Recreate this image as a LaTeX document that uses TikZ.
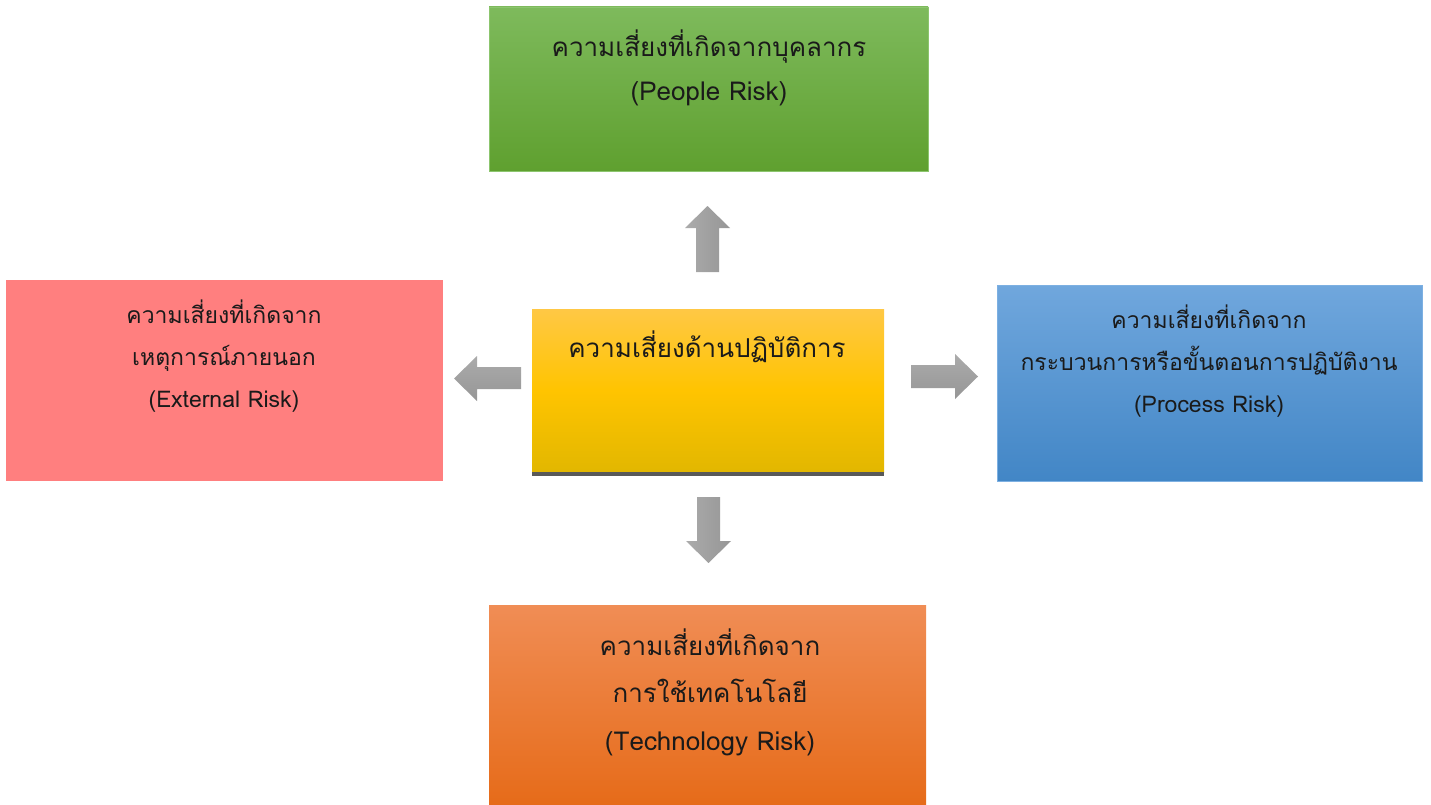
\documentclass[tikz,border=0pt]{standalone}
\usepackage{fontspec}
\newfontfamily\thai[Script=Thai]{Loma}
\usetikzlibrary{calc}
\definecolor{txt}{HTML}{1A1A1A}
\definecolor{gTop}{HTML}{7EBA5C}
\definecolor{gBot}{HTML}{5FA02F}
\definecolor{gLine}{HTML}{8CC56E}
\definecolor{redF}{HTML}{FF7F7F}
\definecolor{yTop}{HTML}{FFC845}
\definecolor{yMid}{HTML}{FFC400}
\definecolor{yBot}{HTML}{E2B700}
\definecolor{barC}{HTML}{595959}
\definecolor{bTop}{HTML}{70A7DD}
\definecolor{bBot}{HTML}{4286C6}
\definecolor{bLine}{HTML}{7DB0E2}
\definecolor{oTop}{HTML}{F08D55}
\definecolor{oBot}{HTML}{E66B19}
\definecolor{aLight}{HTML}{ABABAB}
\definecolor{aDark}{HTML}{969696}
\tikzset{
  box/.style={rectangle, inner sep=0pt, outer sep=0pt, anchor=north west},
  lbl/.style={inner sep=0pt, align=center, text=txt, anchor=base},
  varrow/.style={left color=aLight, right color=aDark},
  harrow/.style={top color=aLight, bottom color=aDark},
}
\begin{document}
\begin{tikzpicture}[x=1pt,y=-1pt]
\useasboundingbox (0,0) rectangle (1431,805);
% boxes
\node[box, minimum width=439pt, minimum height=164pt, top color=gTop, bottom color=gBot, draw=gLine, line width=0.6pt] (people) at (489,7) {};
\node[box, minimum width=437pt, minimum height=201pt, fill=redF] (external) at (6,280) {};
\node[box, minimum width=352pt, minimum height=163pt, top color=yTop, bottom color=yBot, middle color=yMid] (core) at (532,309) {};
\fill[barC] (core.south west) rectangle ($(core.south east)+(0,4)$);
\node[box, minimum width=425pt, minimum height=196pt, top color=bTop, bottom color=bBot, draw=bLine, line width=0.6pt] (process) at (997,285) {};
\node[box, minimum width=437pt, minimum height=201pt, top color=oTop, bottom color=oBot] (tech) at (489,605) {};
% texts (anchored at the baseline of the last line)
\node[lbl, font=\thai\fontsize{26}{44}\selectfont] (peopleT) at (709,101) {ความเสี่ยงที่เกิดจากบุคลากร\\(People Risk)};
\node[lbl, font=\thai\fontsize{23}{42}\selectfont] (externalT) at (224,407) {ความเสี่ยงที่เกิดจาก\\เหตุการณ์ภายนอก\\(External Risk)};
\node[lbl, font=\thai\fontsize{26}{44}\selectfont] (coreT) at (707,357) {ความเสี่ยงด้านปฏิบัติการ};
\node[lbl, font=\thai\fontsize{23}{42}\selectfont] (processT) at (1209,412) {ความเสี่ยงที่เกิดจาก\\กระบวนการหรือขั้นตอนการปฏิบัติงาน\\(Process Risk)};
\node[lbl, font=\thai\fontsize{26}{47.5}\selectfont] (techT) at (710,750) {ความเสี่ยงที่เกิดจาก\\การใช้เทคโนโลยี\\(Technology Risk)};
% block arrows
\shade[varrow] (696,272) -- (696,228) -- (685,228) -- (707.5,206) -- (730,228) -- (719,228) -- (719,272) -- cycle;
\shade[varrow] (697,497) -- (697,541) -- (686,541) -- (708.5,563) -- (731,541) -- (720,541) -- (720,497) -- cycle;
\shade[harrow] (521,367) -- (477,367) -- (477,356) -- (454,378.5) -- (477,401) -- (477,389) -- (521,389) -- cycle;
\shade[harrow] (911,365) -- (955,365) -- (955,354) -- (978,376.5) -- (955,399) -- (955,388) -- (911,388) -- cycle;
\end{tikzpicture}
\end{document}
